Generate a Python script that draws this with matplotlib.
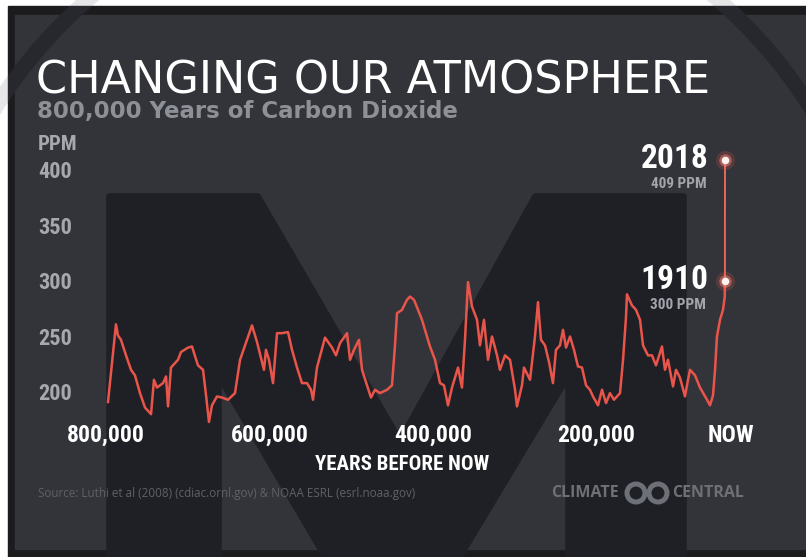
import matplotlib.pyplot as plt
from matplotlib import font_manager
from matplotlib.patches import Rectangle, Circle, Polygon

# ice core co2, thousands of years before now
years_ka = [798.7, 788.4, 785.8, 781.9, 775.4, 768.9, 763.8, 757.3, 750.8, 743.0,
            739.2, 735.3, 727.5, 723.6, 721.0, 717.2, 708.1, 704.2, 695.1, 690.0,
            682.2, 675.7, 671.8, 668.0, 664.1, 657.6, 651.1, 643.4, 634.3, 627.8,
            618.8, 612.3, 605.8,
            599.4, 596.8, 594.2, 590.3, 585.1, 579.9, 573.5, 565.7, 560.5, 554.0,
            547.6, 541.1, 535.9, 533.3, 528.2, 517.8, 508.7, 503.6, 498.4, 489.3,
            485.4, 480.3, 473.8, 469.9, 463.4, 458.3, 453.1, 446.6, 437.5, 431.1,
            427.2, 424.6, 418.1, 411.7,
            407.8, 402.6, 397.4, 392.2, 388.4, 381.9, 375.4, 368.9, 363.8, 358.6,
            353.4, 345.6, 340.5, 336.6, 332.7, 327.5, 321.0, 317.2, 312.0, 306.8,
            301.6, 295.1, 291.3, 284.8, 278.3, 271.8, 269.3, 262.8, 260.2, 252.4,
            246.0, 242.1, 238.2, 233.0, 227.8, 222.7,
            218.8, 213.6, 209.7, 205.8, 200.6, 195.5, 190.3, 185.1, 179.9, 174.8,
            170.9, 164.4, 159.2, 154.0, 148.9, 143.7, 135.9, 132.0, 128.2, 126.9,
            120.4, 115.2, 110.0, 106.1, 99.7, 94.5, 89.3, 81.6, 77.7, 73.8,
            67.3, 63.4, 58.3, 51.8, 47.9, 45.3, 38.8, 32.4, 23.3, 19.4,
            15.5, 12.9, 10.4, 6.5, 2.6, 0.3]
co2_ppm = [191, 261, 251, 247, 233, 220, 215, 199, 186, 180,
           211, 204, 208, 214, 187, 222, 229, 236, 240, 241,
           224, 220, 197, 173, 188, 196, 195, 193, 199, 229,
           247, 260, 245,
           227, 220, 238, 229, 208, 253, 253, 254, 238, 222,
           208, 208, 202, 193, 222, 249, 240, 233, 244, 253,
           229, 238, 247, 220, 206, 195, 202, 199, 202, 206,
           242, 271, 274, 283,
           286, 283, 274, 265, 256, 241, 229, 208, 206, 188,
           204, 222, 204, 247, 299, 277, 265, 242, 265, 229,
           250, 233, 220, 233, 229, 202, 187, 206, 222, 211,
           250, 281, 247, 242, 227, 208,
           238, 242, 256, 240, 250, 238, 223, 222, 206, 202,
           196, 188, 202, 190, 199, 193, 199, 229, 267, 288,
           278, 274, 265, 242, 233, 233, 224, 241, 220, 229,
           205, 220, 213, 196, 211, 220, 215, 204, 193, 188,
           197, 220, 250, 265, 274, 286]

# modern readings (1910 and 2018)
modern_years_ka = [0.108, 0.0]
modern_ppm = [300, 409]
modern_labels = ['1910', '2018']

y_ticks = [200, 250, 300, 350, 400]
x_tick_labels = ['800,000', '600,000', '400,000', '200,000', 'NOW']
x_tick_pos = [801.3, 589.0, 378.0, 167.0, -7.8]   # where the labels sit on the picture

W, H = 806, 557

# fonts
names = {f.name for f in font_manager.fontManager.ttflist}
narrow = 'DejaVu Sans'
for n in ['Roboto Condensed', 'Liberation Sans Narrow']:
    if n in names:
        narrow = n
        break
nar = dict(family=narrow, weight='bold', stretch='condensed')
sans = 'Open Sans' if 'Open Sans' in names else 'DejaVu Sans'

fig = plt.figure(figsize=(W / 100, H / 100), dpi=100)
fig.patch.set_facecolor('white')

# background: frame, panel, ring and big M watermark (pixel coords)
bg = fig.add_axes([0, 0, 1, 1])
bg.set_xlim(0, W)
bg.set_ylim(H, 0)
bg.axis('off')
bg.add_patch(Circle((403, 363), 481, fill=False, lw=11, ec='#e6e6e8', zorder=0))
frame = Rectangle((8, 6), W - 8, H - 6, color='#1c1c1f', zorder=1)
bg.add_patch(frame)
bg.add_patch(Rectangle((15, 15), W - 15, 549 - 15, color='#333439', zorder=2))
ring = Circle((403, 363), 481, fill=False, lw=11, ec='#27282d', zorder=3)
bg.add_patch(ring)
ring.set_clip_path(frame)
m_pts = [(109, 557), (109, 196), (258, 196), (400, 440), (535, 196), (684, 196),
         (684, 557), (568, 557), (568, 377), (460, 557), (325, 557), (219, 377),
         (219, 557)]
bg.add_patch(Polygon(m_pts, closed=True, fc='#1f2026', ec='#1f2026', lw=4,
                     joinstyle='round', zorder=4))

# logo
bg.add_patch(Circle((636, 493), 9, fill=False, lw=3.6, ec='#6e7077', zorder=5))
bg.add_patch(Circle((658, 493), 9, fill=False, lw=3.6, ec='#6e7077', zorder=5))

# main chart
px_per_ka = 0.7725
x_left, x_right = 802, -8
ax = fig.add_axes([(725 - x_left * px_per_ka) / W, 1 - 392 / H,
                   (x_left - x_right) * px_per_ka / W, 222 / H])
ax.set_facecolor('none')
ax.set_xlim(x_left, x_right)
ax.set_ylim(200, 400)
for s in ax.spines.values():
    s.set_visible(False)

red = '#e9554a'
ax.plot(years_ka + modern_years_ka[:1], co2_ppm + modern_ppm[:1], color=red, lw=1.8, clip_on=False)
ax.plot(modern_years_ka, modern_ppm, color='#e4675d', lw=1.4, clip_on=False)

# glowing dots
ax.scatter(modern_years_ka, modern_ppm, s=190, color='#ff5a4c', alpha=0.18, lw=0, clip_on=False, zorder=5)
ax.scatter(modern_years_ka, modern_ppm, s=80, color='#ff8a7e', alpha=0.45, lw=0, clip_on=False, zorder=6)
ax.scatter(modern_years_ka, modern_ppm, s=30, color='#fff1ee', lw=0, clip_on=False, zorder=7)

for yr, v, lab in zip(modern_years_ka, modern_ppm, modern_labels):
    ax.annotate(lab, (yr, v), xytext=(-12, 1), textcoords='offset points',
                ha='right', va='center', color='white', fontsize=24,
                annotation_clip=False, **nar)
    ax.annotate(f'{v} PPM', (yr, v), xytext=(-13.5, -17), textcoords='offset points',
                ha='right', va='center', color='#a3a5ac', fontsize=11,
                annotation_clip=False, **nar)

ax.set_yticks(y_ticks)
ax.set_yticklabels([str(v) for v in y_ticks], color='#a6a8ae', fontsize=16, **nar)
for lbl in ax.get_yticklabels():
    lbl.set_ha('left')
ax.tick_params(axis='y', length=0, pad=48.5)

ax.set_xticks(x_tick_pos)
ax.set_xticklabels(x_tick_labels, color='white', fontsize=17, **nar)
ax.tick_params(axis='x', length=0, pad=23)

# texts
fig.text(36 / W, 1 - 93 / H, 'CHANGING OUR ATMOSPHERE', color='white', fontsize=32,
         family='DejaVu Sans', va='baseline')
fig.text(37 / W, 1 - 118 / H, '800,000 Years of Carbon Dioxide', color='#8e9097',
         fontsize=16.5, family='DejaVu Sans', weight='bold', va='baseline')
fig.text(38 / W, 1 - 144 / H, 'PPM', color='#a6a8ae', fontsize=15, va='center', **nar)
fig.text(402 / W, 1 - 464 / H, 'YEARS BEFORE NOW', color='white', fontsize=15,
         ha='center', va='center', **nar)
fig.text(38 / W, 1 - 493 / H,
         'Source: Luthi et al (2008) (cdiac.ornl.gov) & NOAA ESRL (esrl.noaa.gov)',
         color='#5f6168', fontsize=8.4, family=sans, va='center')
fig.text(619 / W, 1 - 493 / H, 'CLIMATE', color='#6e7077', fontsize=11.5, family=sans,
         weight='bold', ha='right', va='center')
fig.text(672 / W, 1 - 493 / H, 'CENTRAL', color='#6e7077', fontsize=11.5, family=sans,
         weight='bold', ha='left', va='center')

fig.savefig('out.png', dpi=100, facecolor=fig.get_facecolor())
